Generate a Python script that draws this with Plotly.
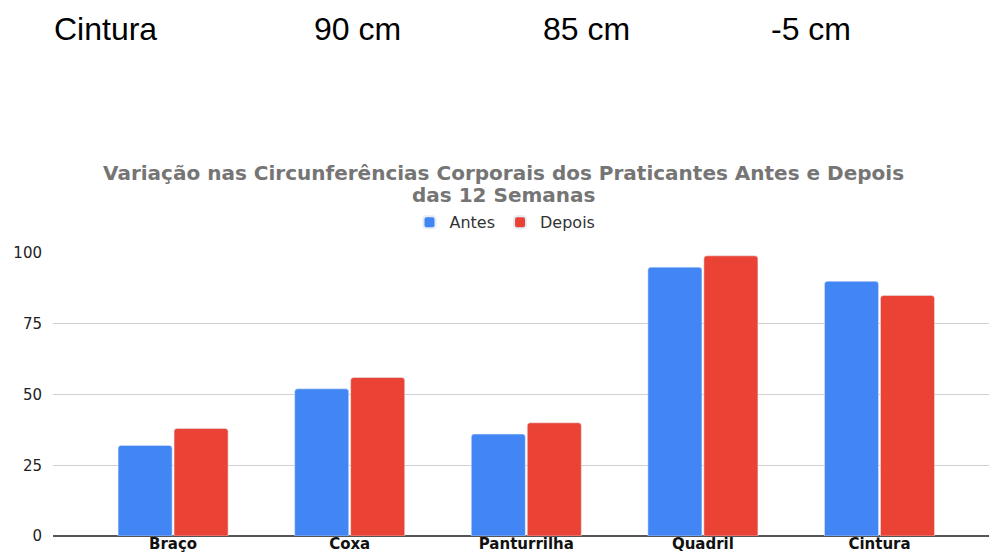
import plotly.graph_objects as go

categorias = ["Braço", "Coxa", "Panturrilha", "Quadril", "Cintura"]
antes = [32, 52, 36, 95, 90]
depois = [38, 56, 40, 99, 85]

linha_tabela = ["Cintura", "90 cm", "85 cm", "-5 cm"]
titulo_linhas = ["Variação nas Circunferências Corporais dos Praticantes Antes e Depois",
                 "das 12 Semanas"]

W, H = 989, 556
y0_px, y100_px = 535.7, 252.7
ph = y0_px - y100_px

def py(p):
    return (y0_px - p) / ph

def px(p):
    return (p - 53) / (W - 53)

fig = go.Figure()
fig.add_trace(go.Bar(name="Antes", x=categorias, y=antes, marker_color="#4285F4"))
fig.add_trace(go.Bar(name="Depois", x=categorias, y=depois, marker_color="#EA4335"))

fig.update_layout(
    width=W, height=H,
    margin=dict(l=53, r=0, t=253, b=20),
    paper_bgcolor="white", plot_bgcolor="white",
    barmode="group", bargap=0.366, bargroupgap=0.035, barcornerradius=3,
    font=dict(family="DejaVu Sans", color="#222"),
    legend=dict(orientation="h", x=px(505), xanchor="center", y=py(222), yanchor="middle",
                font=dict(family="DejaVu Sans", size=16, color="#333"),
                itemsizing="constant", traceorder="normal", itemwidth=30),
    xaxis=dict(range=[-0.68, 4.62], showgrid=False, showline=False, ticks="",
               automargin=False, ticklabelstandoff=-3,
               tickfont=dict(family="DejaVu Sans", size=15, color="#111", weight="bold")),
    yaxis=dict(range=[0, 100], dtick=25, showgrid=True, gridcolor="#d0d0d0", gridwidth=1,
               zeroline=True, zerolinecolor="#555", zerolinewidth=1.5, automargin=False,
               tickfont=dict(family="DejaVu Sans", size=15, color="#222"), ticklabelstandoff=10),
)

for txt, yp in zip(titulo_linhas, [173, 195]):
    fig.add_annotation(text="<b>" + txt + "</b>", xref="paper", yref="paper",
                       x=px(503), y=py(yp), xanchor="center", yanchor="middle",
                       showarrow=False,
                       font=dict(family="DejaVu Sans", size=20, color="#757575"))

xs = [52, 357, 586, 811]
anchors = ["left", "center", "center", "center"]
for txt, xp, an in zip(linha_tabela, xs, anchors):
    fig.add_annotation(text=txt, xref="paper", yref="paper",
                       x=px(xp), y=py(29),
                       xanchor=an, yanchor="middle", showarrow=False,
                       font=dict(family="Liberation Sans", size=32, color="#000"))

fig.write_html("out.html")
